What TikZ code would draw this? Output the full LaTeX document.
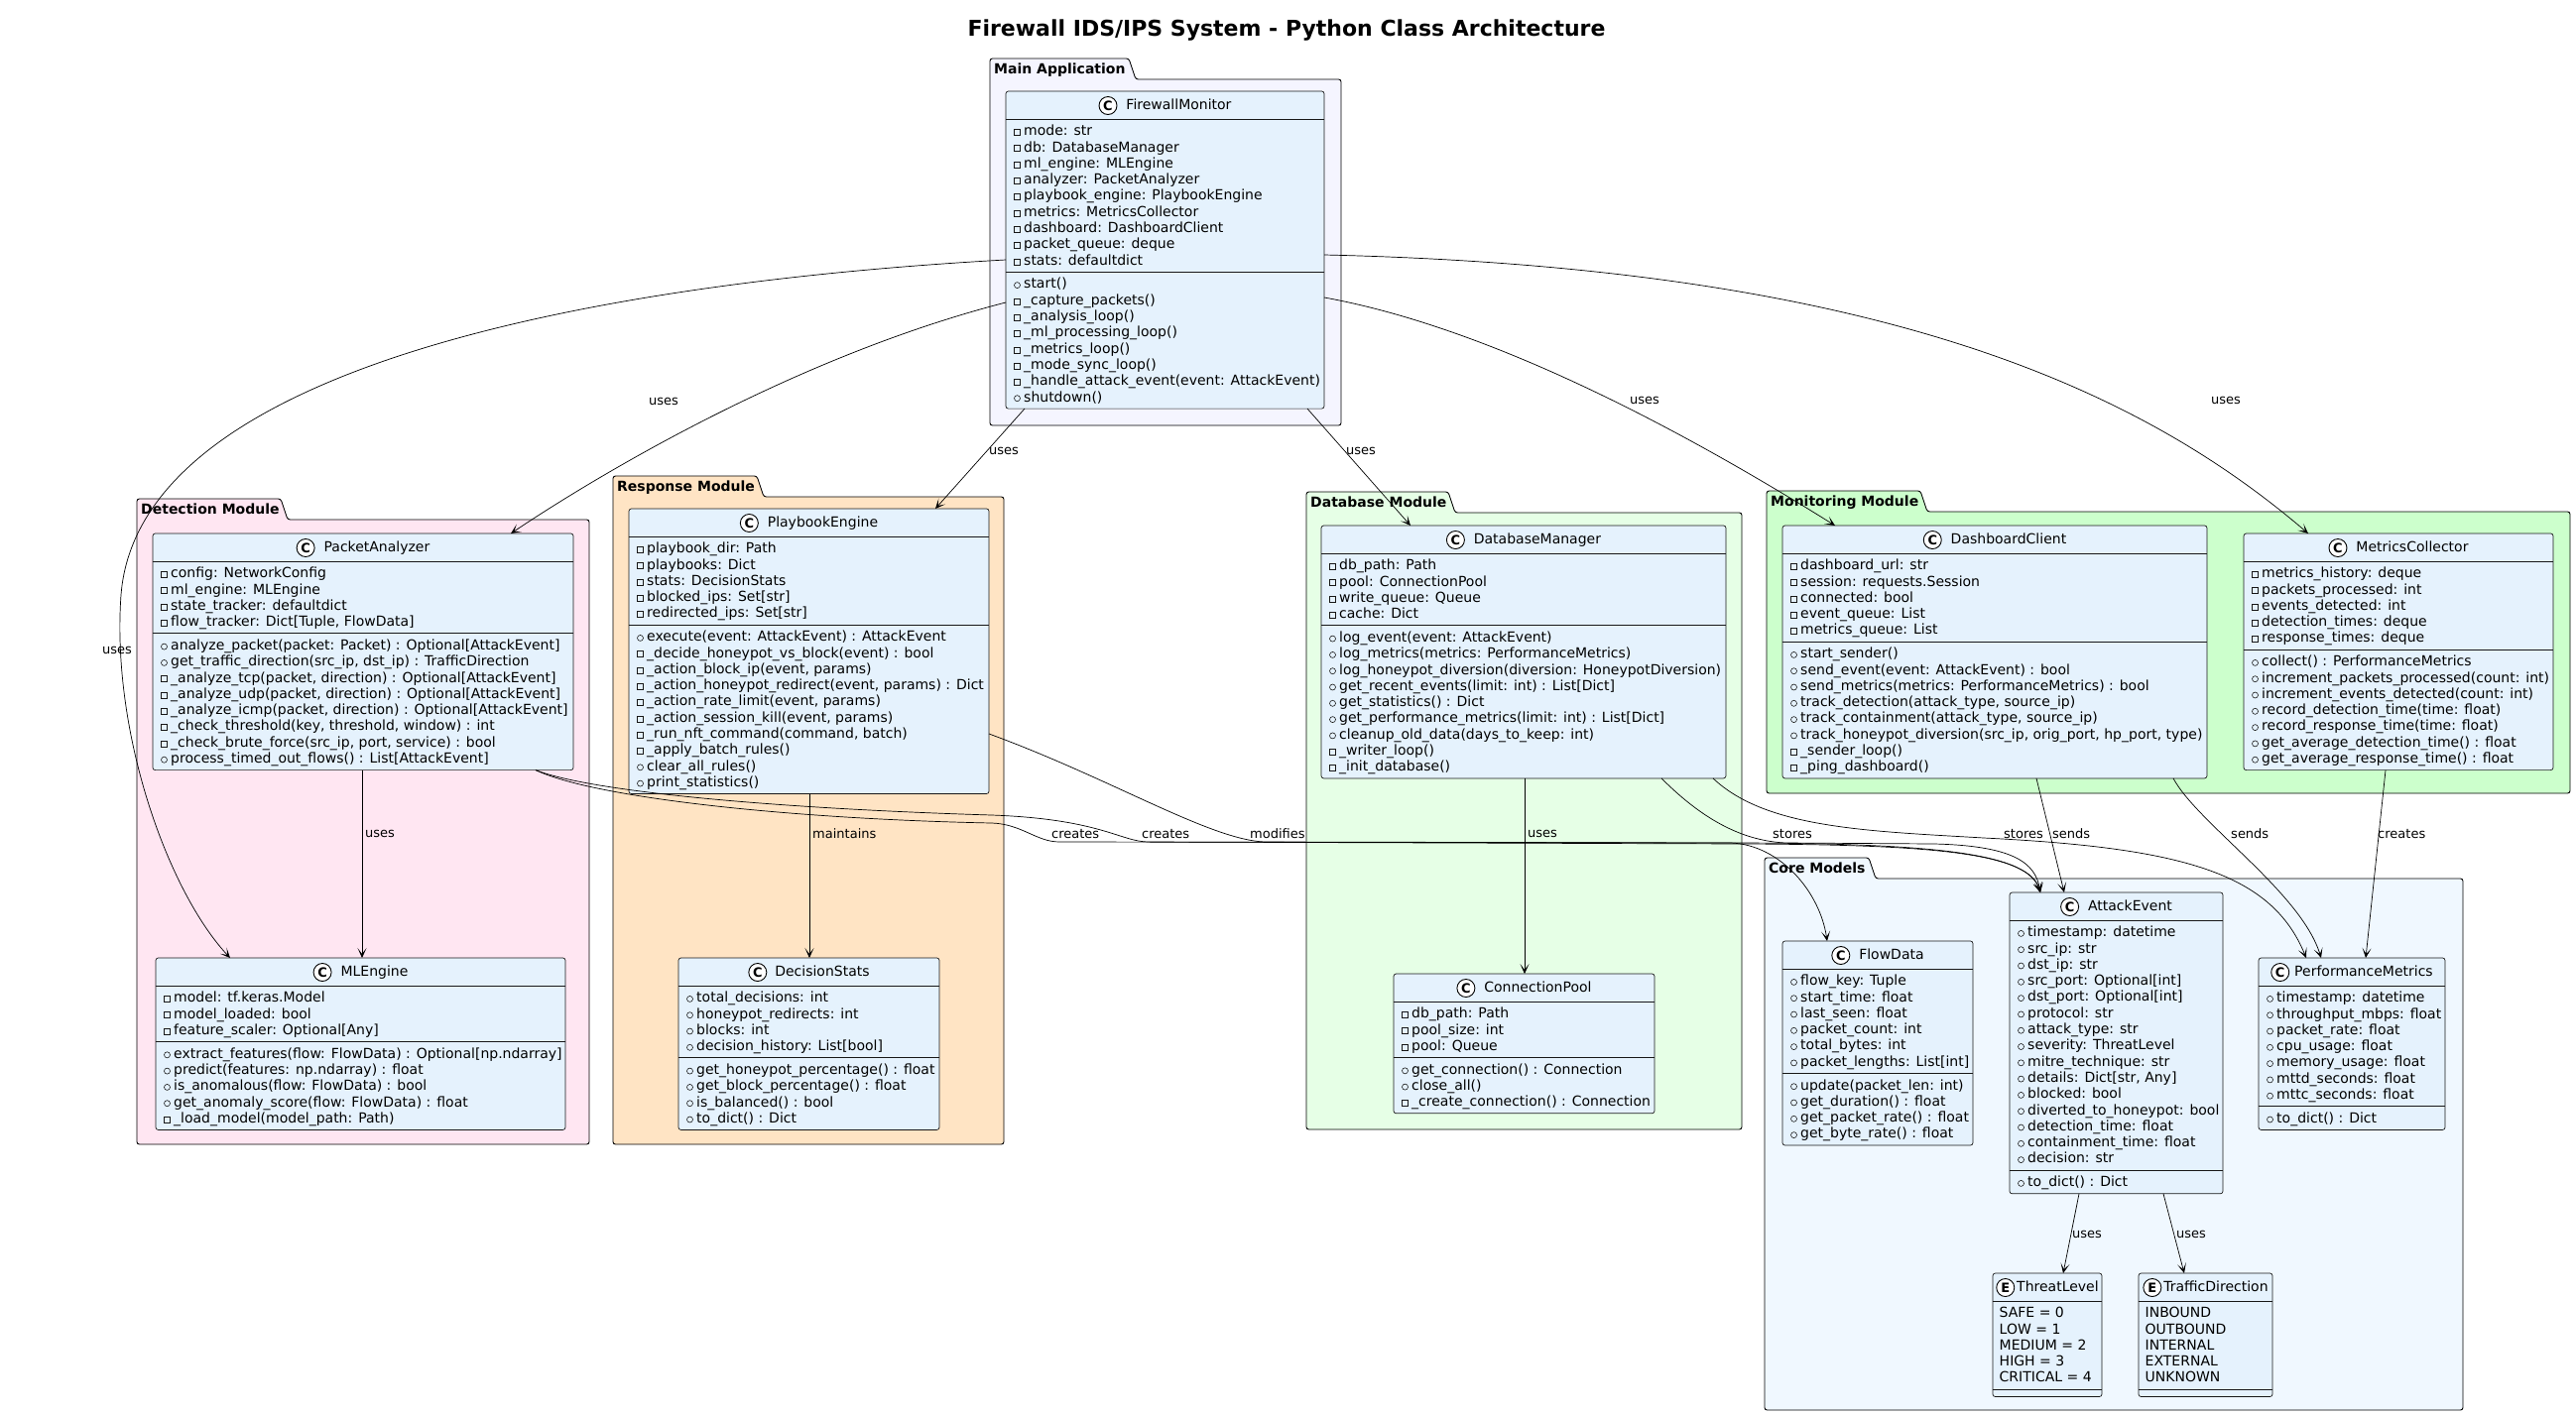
\documentclass[tikz,border=0pt]{standalone}
\usepackage{fontspec}
\setmainfont{DejaVu Sans}
\usetikzlibrary{arrows.meta,calc}
\definecolor{clsfill}{HTML}{E5F2FD}
\definecolor{cMain}{HTML}{F5F5FF}
\definecolor{cDet}{HTML}{FFE6F2}
\definecolor{cResp}{HTML}{FFE4C4}
\definecolor{cDb}{HTML}{E6FFE6}
\definecolor{cMon}{HTML}{CCFFCC}
\definecolor{cCore}{HTML}{F0F8FF}
\definecolor{ink}{HTML}{181818}
\newcommand\cf{\fontsize{14}{16.3}\selectfont}
\newcommand\pv{\rule{0pt}{11pt}\tikz[baseline=0pt,x=1pt,y=1pt]{\draw[line width=0.6pt,draw=ink] (0.3,0.3) rectangle (6.3,6.3);}\hspace{3.4pt}}
\newcommand\pb{\rule{0pt}{11pt}\tikz[baseline=0pt,x=1pt,y=1pt]{\draw[line width=0.6pt,draw=ink] (3.3,3.3) circle (3);}\hspace{3.4pt}}
\newcommand\pn{\rule{0pt}{11pt}}
\newcommand\ico[1]{\tikz[baseline=-4pt,x=1pt,y=1pt]{\draw[line width=0.9pt,draw=black,fill=white] (0,0) circle (9);\pgftext{\fontsize{13}{13}\selectfont\bfseries #1}}}
\tikzset{
 clsbox/.style={draw=ink,line width=0.7pt,fill=clsfill,rounded corners=2.5pt,inner sep=0pt,outer sep=0pt},
 clsline/.style={draw=ink,line width=0.7pt},
 clstitle/.style={anchor=base,inner sep=0pt,font=\fontsize{14}{16}\selectfont},
 clstext/.style={anchor=north west,inner sep=0pt,align=left,font=\cf},
 pkgline/.style={draw=black,line width=0.9pt,rounded corners=2.5pt},
 pkglbl/.style={anchor=base west,inner sep=0pt,font=\fontsize{14}{16}\selectfont\bfseries},
 rel/.style={draw=black,line width=0.7pt,-{Stealth[length=10pt,width=9pt,inset=6pt]}},
 lbl/.style={anchor=west,inner sep=0pt,font=\fontsize{13}{15}\selectfont},
}
% id, x, y, width, letter, title, n attrs, n methods, gap
\newcommand\umlcls[9]{%
 \pgfmathsetmacro\hA{16.3*#7+7.5}%
 \pgfmathsetmacro\hM{16.3*#8+7.5}%
 \pgfmathsetmacro\hT{28+\hA+\hM}%
 \node[clsbox,minimum width=#4pt,minimum height=\hT pt,anchor=north west] (#1) at (#2,#3) {};
 \draw[clsline] ($(#1.north west)+(0,28)$) -- ($(#1.north east)+(0,28)$);
 \draw[clsline] ($(#1.north west)+(0,28+\hA)$) -- ($(#1.north east)+(0,28+\hA)$);
 \node[clstitle] (#1-t) at ($(#1.north)+(0,18.5)$) {\ico{#5}\hspace{#9pt}#6};
 \coordinate (#1-a) at ($(#1.north west)+(8,33.5)$);
 \coordinate (#1-m) at ($(#1.north west)+(8,33.5+\hA)$);
}
% id, x0, ytab, xtab, xright, ybottom, colour, label
\newcommand\umlpkg[8]{%
 \draw[pkgline,fill=#7] (#2,#3) -- (#4,#3) -- (#4+7,#3+21) -- (#5,#3+21) -- (#5,#6) -- (#2,#6) -- cycle;
 \node[pkglbl] (#1) at (#2+4,#3+15.5) {#8};
}
\begin{document}
\begin{tikzpicture}[x=1pt,y=-1pt]
\useasboundingbox (0,0) rectangle (2597,1428);
\fill[white] (0,0) rectangle (2597,1428);
\node[anchor=base,inner sep=0pt,font=\fontsize{22}{26}\selectfont\bfseries] (title) at (1297,36) {Firewall IDS/IPS System - Python Class Architecture};

\umlpkg{pmain}{998}{59}{1138}{1352}{429}{cMain}{Main Application}
\umlpkg{pdet}{138}{503}{283}{594}{1154}{cDet}{Detection Module}
\umlpkg{presp}{618}{480}{763}{1012}{1154}{cResp}{Response Module}
\umlpkg{pdb}{1317}{496}{1460}{1756}{1139}{cDb}{Database Module}
\umlpkg{pmon}{1781}{495}{1936}{2591}{800}{cMon}{Monitoring Module}
\umlpkg{pcore}{1779}{865}{1884}{2483}{1422}{cCore}{Core Models}

\umlcls{fm}{1014}{92}{321}{C}{FirewallMonitor}{9}{8}{9}
\node[clstext] (fm-A) at (fm-a) {\pv mode: str\\\pv db: DatabaseManager\\\pv ml\_engine: MLEngine\\\pv analyzer: PacketAnalyzer\\\pv playbook\_engine: PlaybookEngine\\\pv metrics: MetricsCollector\\\pv dashboard: DashboardClient\\\pv packet\_queue: deque\\\pv stats: defaultdict};
\node[clstext] (fm-M) at (fm-m) {\pb start()\\\pv \_capture\_packets()\\\pv \_analysis\_loop()\\\pv \_ml\_processing\_loop()\\\pv \_metrics\_loop()\\\pv \_mode\_sync\_loop()\\\pv \_handle\_attack\_event(event: AttackEvent)\\\pb shutdown()};

\umlcls{pa}{154}{538}{424}{C}{PacketAnalyzer}{4}{8}{9}
\node[clstext] (pa-A) at (pa-a) {\pv config: NetworkConfig\\\pv ml\_engine: MLEngine\\\pv state\_tracker: defaultdict\\\pv flow\_tracker: Dict[Tuple, FlowData]};
\node[clstext] (pa-M) at (pa-m) {\pb analyze\_packet(packet: Packet) : Optional[AttackEvent]\\\pb get\_traffic\_direction(src\_ip, dst\_ip) : TrafficDirection\\\pv \_analyze\_tcp(packet, direction) : Optional[AttackEvent]\\\pv \_analyze\_udp(packet, direction) : Optional[AttackEvent]\\\pv \_analyze\_icmp(packet, direction) : Optional[AttackEvent]\\\pv \_check\_threshold(key, threshold, window) : int\\\pv \_check\_brute\_force(src\_ip, port, service) : bool\\\pb process\_timed\_out\_flows() : List[AttackEvent]};

\umlcls{ml}{157}{966}{413}{C}{MLEngine}{3}{5}{9}
\node[clstext] (ml-A) at (ml-a) {\pv model: tf.keras.Model\\\pv model\_loaded: bool\\\pv feature\_scaler: Optional[Any]};
\node[clstext] (ml-M) at (ml-m) {\pb extract\_features(flow: FlowData) : Optional[np.ndarray]\\\pb predict(features: np.ndarray) : float\\\pb is\_anomalous(flow: FlowData) : bool\\\pb get\_anomaly\_score(flow: FlowData) : float\\\pv \_load\_model(model\_path: Path)};

\umlcls{pe}{634}{513}{363}{C}{PlaybookEngine}{5}{10}{9}
\node[clstext] (pe-A) at (pe-a) {\pv playbook\_dir: Path\\\pv playbooks: Dict\\\pv stats: DecisionStats\\\pv blocked\_ips: Set[str]\\\pv redirected\_ips: Set[str]};
\node[clstext] (pe-M) at (pe-m) {\pb execute(event: AttackEvent) : AttackEvent\\\pv \_decide\_honeypot\_vs\_block(event) : bool\\\pv \_action\_block\_ip(event, params)\\\pv \_action\_honeypot\_redirect(event, params) : Dict\\\pv \_action\_rate\_limit(event, params)\\\pv \_action\_session\_kill(event, params)\\\pv \_run\_nft\_command(command, batch)\\\pv \_apply\_batch\_rules()\\\pb clear\_all\_rules()\\\pb print\_statistics()};

\umlcls{ds}{684}{966}{263}{C}{DecisionStats}{4}{4}{8}
\node[clstext] (ds-A) at (ds-a) {\pb total\_decisions: int\\\pb honeypot\_redirects: int\\\pb blocks: int\\\pb decision\_history: List[bool]};
\node[clstext] (ds-M) at (ds-m) {\pb get\_honeypot\_percentage() : float\\\pb get\_block\_percentage() : float\\\pb is\_balanced() : bool\\\pb to\_dict() : Dict};

\umlcls{dm}{1332}{530}{408}{C}{DatabaseManager}{4}{9}{9}
\node[clstext] (dm-A) at (dm-a) {\pv db\_path: Path\\\pv pool: ConnectionPool\\\pv write\_queue: Queue\\\pv cache: Dict};
\node[clstext] (dm-M) at (dm-m) {\pb log\_event(event: AttackEvent)\\\pb log\_metrics(metrics: PerformanceMetrics)\\\pb log\_honeypot\_diversion(diversion: HoneypotDiversion)\\\pb get\_recent\_events(limit: int) : List[Dict]\\\pb get\_statistics() : Dict\\\pb get\_performance\_metrics(limit: int) : List[Dict]\\\pb cleanup\_old\_data(days\_to\_keep: int)\\\pv \_writer\_loop()\\\pv \_init\_database()};

\umlcls{cp}{1405}{982}{263}{C}{ConnectionPool}{3}{3}{9}
\node[clstext] (cp-A) at (cp-a) {\pv db\_path: Path\\\pv pool\_size: int\\\pv pool: Queue};
\node[clstext] (cp-M) at (cp-m) {\pb get\_connection() : Connection\\\pb close\_all()\\\pv \_create\_connection() : Connection};

\umlcls{dc}{1797}{530}{428}{C}{DashboardClient}{5}{8}{9}
\node[clstext] (dc-A) at (dc-a) {\pv dashboard\_url: str\\\pv session: requests.Session\\\pv connected: bool\\\pv event\_queue: List\\\pv metrics\_queue: List};
\node[clstext] (dc-M) at (dc-m) {\pb start\_sender()\\\pb send\_event(event: AttackEvent) : bool\\\pb send\_metrics(metrics: PerformanceMetrics) : bool\\\pb track\_detection(attack\_type, source\_ip)\\\pb track\_containment(attack\_type, source\_ip)\\\pb track\_honeypot\_diversion(src\_ip, orig\_port, hp\_port, type)\\\pv \_sender\_loop()\\\pv \_ping\_dashboard()};

\umlcls{mc}{2262}{538}{312}{C}{MetricsCollector}{5}{7}{9}
\node[clstext] (mc-A) at (mc-a) {\pv metrics\_history: deque\\\pv packets\_processed: int\\\pv events\_detected: int\\\pv detection\_times: deque\\\pv response\_times: deque};
\node[clstext] (mc-M) at (mc-m) {\pb collect() : PerformanceMetrics\\\pb increment\_packets\_processed(count: int)\\\pb increment\_events\_detected(count: int)\\\pb record\_detection\_time(time: float)\\\pb record\_response\_time(time: float)\\\pb get\_average\_detection\_time() : float\\\pb get\_average\_response\_time() : float};

\umlcls{fd}{1797}{949}{192}{C}{FlowData}{6}{4}{9}
\node[clstext] (fd-A) at (fd-a) {\pb flow\_key: Tuple\\\pb start\_time: float\\\pb last\_seen: float\\\pb packet\_count: int\\\pb total\_bytes: int\\\pb packet\_lengths: List[int]};
\node[clstext] (fd-M) at (fd-m) {\pb update(packet\_len: int)\\\pb get\_duration() : float\\\pb get\_packet\_rate() : float\\\pb get\_byte\_rate() : float};

\umlcls{ae}{2026}{900}{215}{C}{AttackEvent}{15}{1}{9}
\node[clstext] (ae-A) at (ae-a) {\pb timestamp: datetime\\\pb src\_ip: str\\\pb dst\_ip: str\\\pb src\_port: Optional[int]\\\pb dst\_port: Optional[int]\\\pb protocol: str\\\pb attack\_type: str\\\pb severity: ThreatLevel\\\pb mitre\_technique: str\\\pb details: Dict[str, Any]\\\pb blocked: bool\\\pb diverted\_to\_honeypot: bool\\\pb detection\_time: float\\\pb containment\_time: float\\\pb decision: str};
\node[clstext] (ae-M) at (ae-m) {\pb to\_dict() : Dict};

\umlcls{pm}{2277}{966}{188}{C}{PerformanceMetrics}{7}{1}{5}
\node[clstext] (pm-A) at (pm-a) {\pb timestamp: datetime\\\pb throughput\_mbps: float\\\pb packet\_rate: float\\\pb cpu\_usage: float\\\pb memory\_usage: float\\\pb mttd\_seconds: float\\\pb mttc\_seconds: float};
\node[clstext] (pm-M) at (pm-m) {\pb to\_dict() : Dict};

\umlcls{tl}{2009}{1284}{110}{E}{ThreatLevel}{5}{0}{2}
\node[clstext] (tl-A) at ($(tl-a)+(-1.5,0)$) {\pn SAFE = 0\\\pn LOW = 1\\\pn MEDIUM = 2\\\pn HIGH = 3\\\pn CRITICAL = 4};

\umlcls{td}{2156}{1284}{135}{E}{TrafficDirection}{5}{0}{2}
\node[clstext] (td-A) at ($(td-a)+(-1.5,0)$) {\pn INBOUND\\\pn OUTBOUND\\\pn INTERNAL\\\pn EXTERNAL\\\pn UNKNOWN};

% ---------- connectors ----------
\draw[rel] ($(fm.north west)+(0,170)$) .. controls (600,285) and (140,370) .. (122,600) .. controls (112,740) and (170,900) .. ($(ml.north west)+(75,0)$);
\node[lbl] (l1) at (103,656) {uses};
\draw[rel] ($(fm.north west)+(0,213)$) .. controls (800,360) and (600,481) .. ($(pa.north west)+(361,0)$);
\node[lbl] (l2) at (654,405) {uses};
\draw[rel] ($(fm.south west)+(19,0)$) -- ($(pe.north west)+(309,0)$);
\node[lbl] (l3) at (997,455) {uses};
\draw[rel] ($(fm.south west)+(304,0)$) -- ($(dm.north west)+(90,0)$);
\node[lbl] (l4) at (1357,455) {uses};
\draw[rel] ($(fm.north east)+(0,208)$) .. controls (1500,330) and (1690,430) .. ($(dc.north west)+(53,0)$);
\node[lbl] (l5) at (1643,404) {uses};
\draw[rel] ($(fm.north east)+(0,165)$) .. controls (1900,270) and (2160,395) .. ($(mc.north west)+(65,0)$);
\node[lbl] (l6) at (2229,404) {uses};

\draw[rel] ($(pa.south west)+(211,0)$) -- ($(ml.north west)+(208,0)$);
\node[lbl] (l7) at (368,841) {uses};
\draw[rel] ($(pe.south west)+(182,0)$) -- ($(ds.north west)+(132,0)$);
\node[lbl] (l8) at (819,841) {maintains};
\draw[rel] ($(dm.south west)+(205,0)$) -- ($(cp.north west)+(132,0)$);
\node[lbl] (l9) at (1540,841) {uses};

\draw[rel] ($(pa.south west)+(386,0)$) .. controls (600,805) and (800,826) .. (1000,830) .. controls (1030,831) and (1045,849) .. (1068,849) -- (1745,850) .. controls (1795,852) and (1835,900) .. ($(fd.north west)+(45,0)$);
\node[lbl] (l10) at (1060,841) {creates};
\draw[rel] ($(pa.south west)+(386,0)$) .. controls (600,800) and (800,816) .. (1000,822) .. controls (1110,826) and (1130,849) .. (1158,849) -- (1760,851) .. controls (1950,852) and (2045,860) .. ($(ae.north west)+(31,0)$);
\node[lbl] (l11) at (1151,841) {creates};
\draw[rel] ($(pe.north east)+(0,227)$) .. controls (1120,785) and (1220,847) .. (1275,849) -- (1760,850) .. controls (1950,851) and (2045,860) .. ($(ae.north west)+(31,0)$);
\node[lbl] (l12) at (1260,841) {modifies};
\draw[rel] ($(dm.south west)+(343,0)$) .. controls (1720,830) and (1760,848) .. (1800,850) -- (1950,851) .. controls (2030,853) and (2052,870) .. ($(ae.north west)+(31,0)$);
\node[lbl] (l13) at (1787,841) {stores};
\draw[rel] ($(dm.south west)+(395,0)$) .. controls (1780,835) and (1880,838) .. (2000,845) .. controls (2200,855) and (2290,880) .. ($(pm.north west)+(48,0)$);
\node[lbl] (l14) at (2020,841) {stores};
\draw[rel] ($(dc.south west)+(256,0)$) -- ($(ae.north west)+(55,0)$);
\node[lbl] (l15) at (2069,841) {sends};
\draw[rel] ($(dc.south west)+(394,0)$) .. controls (2215,830) and (2320,900) .. ($(pm.north west)+(63,0)$);
\node[lbl] (l16) at (2249,841) {sends};
\draw[rel] ($(mc.south west)+(143,0)$) -- ($(pm.north west)+(108,0)$);
\node[lbl] (l17) at (2397,841) {creates};
\draw[rel] ($(ae.south west)+(70,0)$) -- ($(tl.north west)+(71,0)$);
\node[lbl] (l18) at (2089,1245) {uses};
\draw[rel] ($(ae.south west)+(155,0)$) -- ($(td.north west)+(46,0)$);
\node[lbl] (l19) at (2194,1245) {uses};
\end{tikzpicture}
\end{document}
